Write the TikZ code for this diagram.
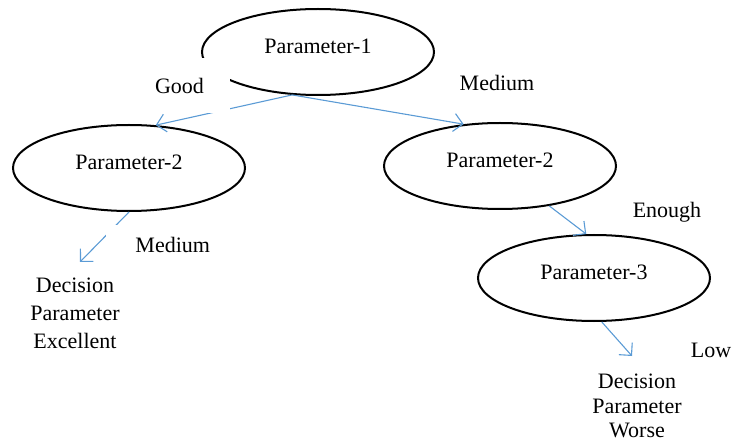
\documentclass[tikz,border=0pt]{standalone}
\usepackage{fontspec}
\setmainfont{Liberation Serif}
\usetikzlibrary{shapes.geometric,arrows.meta}
\definecolor{linkblue}{RGB}{91,155,213}

\begin{document}
\begin{tikzpicture}[x=1pt,y=-1pt,
  param/.style={draw, ellipse, line width=2pt, minimum width=232pt, minimum height=86pt,
    inner sep=0pt, text depth=12pt, font=\fontsize{22}{25}\selectfont},
  link/.style={draw=linkblue, line width=1.1pt, -{Straight Barb[length=9pt,width=18pt]}},
  lbl/.style={inner sep=0pt, font=\fontsize{22}{25}\selectfont},
  mask/.style={lbl, fill=white},
  decision/.style={lbl, align=center}]
\useasboundingbox (0,0) rectangle (732,441);
% root
\node[param] (p1) at (318,52) {Parameter-1};
% second level
\node[param] (p2l) at (129,168) {Parameter-2};
\node[param] (p2r) at (500,166) {Parameter-2};
% third level
\node[param] (p3) at (594,278) {Parameter-3};
% leaves
\node[decision, font=\fontsize{22}{28}\selectfont] (d1) at (75,313) {Decision\\Parameter\\Excellent};
\node[decision, font=\fontsize{22}{24.5}\selectfont] (d2) at (637,406) {Decision\\Parameter\\Worse};
\coordinate (t1) at (80,262);
\coordinate (t2) at (632,356);
% arrows
\draw[link] (p1.239) -- (p2l.58);
\draw[link] (p1.239) -- (p2r.131);
\draw[link] (p2l.south) -- (t1);
\draw[link] (p2r.321) -- (p3.100);
\draw[link] (p3.280) -- (t2);
% labels
\node[mask, text width=75pt, minimum height=55pt, align=left] (good) at (192.5,86) {Good};
\node[lbl] (medr) at (497,83) {Medium};
\node[mask, text width=104pt, minimum height=40pt, align=right] (medl) at (158,245) {Medium};
\node[lbl] (enough) at (667,212) {Enough};
\node[lbl] (low) at (711,350) {Low};
\end{tikzpicture}
\end{document}
